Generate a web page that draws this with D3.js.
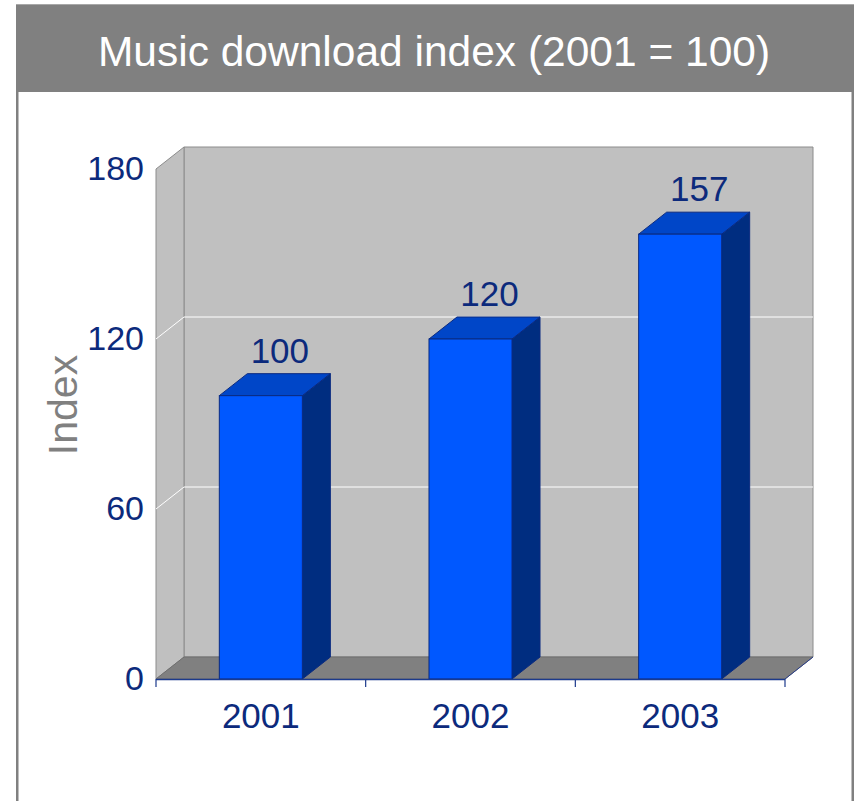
<!DOCTYPE html>
<html>
<head>
<meta charset="utf-8">
<script src="https://cdn.jsdelivr.net/npm/d3@7/dist/d3.min.js"></script>
<style>
  html, body { margin: 0; padding: 0; background: #ffffff; }
  svg { display: block; font-family: "Liberation Sans", Arial, sans-serif; }
</style>
</head>
<body>
<svg id="chart" width="859" height="801"></svg>
<script>
// Chart data
const categories = ["2001", "2002", "2003"];
const values = [100, 120, 157];
const yTicks = [0, 60, 120, 180];
const gridValues = [60, 120];
const titleText = "Music download index (2001 = 100)";
const yTitle = "Index";

const svg = d3.select("#chart");
const W = 859, H = 801;
const FONT = "'Liberation Sans', Arial, sans-serif";

// Frame: title band and side borders
svg.append("rect").attr("x", 16).attr("y", 4).attr("width", 838).attr("height", 88)
  .attr("fill", "#808080");
svg.append("line").attr("x1", 16).attr("x2", 854).attr("y1", 4.5).attr("y2", 4.5)
  .attr("stroke", "#a8a8a8").attr("stroke-width", 1);
svg.append("rect").attr("x", 16).attr("y", 92).attr("width", 2.5).attr("height", H - 92).attr("fill", "#808080");
svg.append("rect").attr("x", 851.5).attr("y", 92).attr("width", 2.5).attr("height", H - 92).attr("fill", "#808080");

svg.append("text").attr("x", 434).attr("y", 66).attr("text-anchor", "middle")
  .attr("fill", "#ffffff").attr("font-size", 42.5).style("font-family", FONT).text(titleText);

// Scales (front plane) and 3-D depth offset
const x = d3.scaleBand().domain(categories).range([156, 785]).padding(0);
const y = d3.scaleLinear().domain([0, 180]).range([679, 169]);
const dx = 28, dy = -22;
const barW = x.bandwidth() * 0.396;
const x0 = x.range()[0], x1 = x.range()[1];
const yTop = y(180), yBase = y(0);

const pts = a => a.map(p => p.join(",")).join(" ");

// Walls
const g = svg.append("g");
// back wall
g.append("polygon")
  .attr("points", pts([[x0 + dx, yTop + dy], [x1 + dx, yTop + dy], [x1 + dx, yBase + dy], [x0 + dx, yBase + dy]]))
  .attr("fill", "#c0c0c0").attr("stroke", "#8c8c8c").attr("stroke-width", 1);
// side wall
g.append("polygon")
  .attr("points", pts([[x0, yTop], [x0 + dx, yTop + dy], [x0 + dx, yBase + dy], [x0, yBase]]))
  .attr("fill", "#c0c0c0").attr("stroke", "#8c8c8c").attr("stroke-width", 1);
// floor
g.append("polygon")
  .attr("points", pts([[x0, yBase], [x0 + dx, yBase + dy], [x1 + dx, yBase + dy], [x1, yBase]]))
  .attr("fill", "#808080").attr("stroke", "#6e6e6e").attr("stroke-width", 1);
// floor right edge
g.append("line").attr("x1", x1).attr("y1", yBase).attr("x2", x1 + dx).attr("y2", yBase + dy)
  .attr("stroke", "#2a3f8a").attr("stroke-width", 1);

// Gridlines across side and back walls
gridValues.forEach(v => {
  g.append("polyline")
    .attr("points", pts([[x0, y(v)], [x0 + dx, y(v) + dy], [x1 + dx, y(v) + dy]]))
    .attr("fill", "none").attr("stroke", "#ffffff").attr("stroke-width", 1);
});

// Bars: side, top, front faces
const bars = svg.append("g");
categories.forEach((c, i) => {
  const v = values[i];
  const bx = x(c) + (x.bandwidth() - barW) / 2;
  const bt = y(v), bb = y(0);
  const edge = "#0a2a80";
  bars.append("polygon")
    .attr("points", pts([[bx + barW, bt], [bx + barW + dx, bt + dy], [bx + barW + dx, bb + dy], [bx + barW, bb]]))
    .attr("fill", "#002d80").attr("stroke", edge).attr("stroke-width", 1);
  bars.append("polygon")
    .attr("points", pts([[bx, bt], [bx + dx, bt + dy], [bx + barW + dx, bt + dy], [bx + barW, bt]]))
    .attr("fill", "#0046c8").attr("stroke", edge).attr("stroke-width", 1);
  bars.append("rect")
    .attr("x", bx).attr("y", bt).attr("width", barW).attr("height", bb - bt)
    .attr("fill", "#0058ff").attr("stroke", edge).attr("stroke-width", 1);
  // value label
  bars.append("text")
    .attr("x", x(c) + x.bandwidth() / 2 + 19)
    .attr("y", bt + dy - 11)
    .attr("text-anchor", "middle").attr("fill", "#0c2a7c").attr("font-size", 35)
    .style("font-family", FONT)
    .text(v);
});

// X axis: line along the front floor edge, ticks at band boundaries
const axisColor = "#1c3a8c";
svg.append("line").attr("x1", x0).attr("x2", x1).attr("y1", yBase + 0.5).attr("y2", yBase + 0.5)
  .attr("stroke", axisColor).attr("stroke-width", 1.5);
const bounds = categories.map(c => x(c)).concat([x1]);
svg.selectAll(".xtick").data(bounds).enter().append("line")
  .attr("x1", d => d).attr("x2", d => d).attr("y1", yBase).attr("y2", yBase + 8)
  .attr("stroke", axisColor).attr("stroke-width", 1.2);

const xAxis = svg.append("g").attr("transform", `translate(0,${yBase})`)
  .call(d3.axisBottom(x).tickSize(0).tickPadding(24));
xAxis.select(".domain").remove();
xAxis.selectAll("text").attr("font-size", 35).attr("fill", "#0c2a7c")
  .style("font-family", FONT).attr("dy", "0.71em");

// Y axis labels
const yAxis = svg.append("g").attr("transform", `translate(${x0},0)`)
  .call(d3.axisLeft(y).tickValues(yTicks).tickSize(0).tickPadding(12).tickFormat(d3.format("d")));
yAxis.select(".domain").remove();
yAxis.selectAll("text").attr("font-size", 34).attr("fill", "#0c2a7c")
  .style("font-family", FONT);

// Y axis title
svg.append("text")
  .attr("transform", `translate(77,405) rotate(-90)`)
  .attr("text-anchor", "middle").attr("fill", "#808080").attr("font-size", 41)
  .style("font-family", FONT)
  .text(yTitle);
</script>
</body>
</html>
